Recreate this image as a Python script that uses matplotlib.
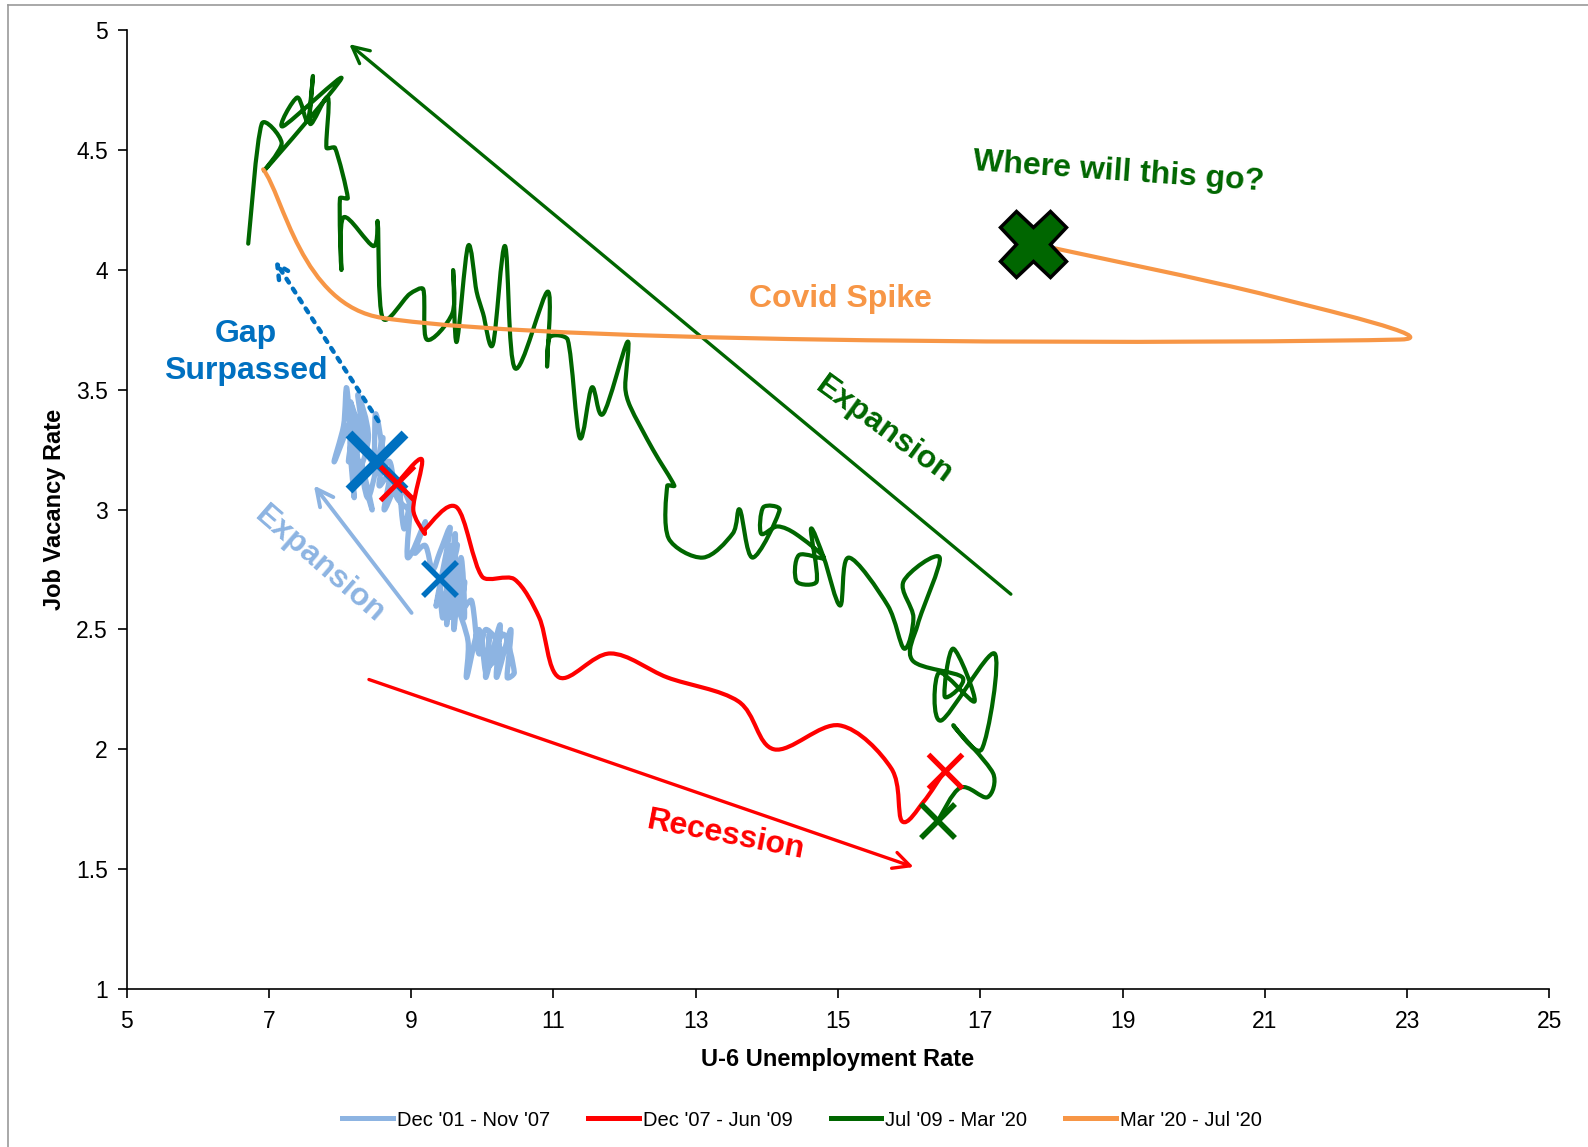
import numpy as np
import matplotlib
matplotlib.use("Agg")
import matplotlib.pyplot as plt
from matplotlib.path import Path
from matplotlib.patches import PathPatch
from matplotlib.lines import Line2D

# Dec '01 - Nov '07 (U-6 rate, job vacancy rate)
blue_x = [9.40,
          9.45, 9.55, 9.50, 9.62, 9.60, 9.70, 9.75, 9.65, 9.80, 9.78, 9.95, 10.05,
          10.10, 10.05, 10.25, 10.20, 10.40, 10.35, 10.45, 10.30, 10.10, 10.25, 10.05, 9.95,
          9.85, 9.70, 9.75, 9.55, 9.60, 9.45, 9.65, 9.50, 9.35, 9.55, 9.40, 9.30,
          9.20, 9.05, 9.20, 8.95, 9.00, 8.90, 8.85, 9.00, 8.80, 8.70, 8.55, 8.60,
          8.40, 8.30, 8.45, 8.15, 8.20, 8.10, 8.05, 7.92, 8.20, 8.12, 8.30, 8.20,
          8.40, 8.25, 8.35, 8.15, 8.45, 8.50, 8.60, 8.55, 8.70, 8.62, 8.75]
blue_y = [2.71,
          2.55, 2.85, 2.52, 2.90, 2.50, 2.80, 2.55, 2.60, 2.45, 2.30, 2.50, 2.32,
          2.48, 2.30, 2.52, 2.30, 2.50, 2.30, 2.32, 2.48, 2.35, 2.42, 2.50, 2.40,
          2.62, 2.58, 2.70, 2.55, 2.72, 2.60, 2.85, 2.78, 2.60, 2.92, 2.82, 2.75,
          2.85, 2.82, 2.95, 2.80, 3.05, 2.92, 3.10, 3.00, 3.05, 3.20, 3.15, 3.30,
          3.05, 3.20, 3.00, 3.30, 3.05, 3.50, 3.35, 3.20, 3.40, 3.20, 3.38, 3.12,
          3.30, 3.48, 3.25, 3.45, 3.20, 3.40, 3.22, 3.10, 3.15, 3.00, 3.08]

# Dec '07 - Jun '09
red_x = [8.80, 9.15, 9.03, 9.19, 9.20, 9.64, 10.00, 10.45, 10.80, 11.08, 11.80,
         12.60, 13.60, 14.10, 15.02, 15.75, 15.90, 16.20, 16.50]
red_y = [3.11, 3.21, 3.00, 2.90, 2.92, 3.01, 2.72, 2.71, 2.55, 2.30, 2.40,
         2.30, 2.20, 2.00, 2.10, 1.92, 1.70, 1.78, 1.91]

# Jul '09 - Mar '20
green_x = [16.40, 16.72, 17.10, 17.18, 16.62, 17.02, 17.20, 16.45, 16.42, 16.92,
           16.62, 16.50, 16.75, 16.05, 16.12, 16.43, 15.92, 16.06, 15.93, 15.70,
           15.15, 15.03, 14.80, 14.62, 14.70, 14.42, 14.45, 14.80, 14.40, 14.15,
           13.92, 13.95, 14.18, 13.80, 13.62, 13.52, 13.10, 12.62, 12.60, 12.70,
           12.40, 12.08, 12.01, 12.04, 11.70, 11.54, 11.37, 11.20, 10.95, 10.91,
           10.92, 10.46, 10.32, 10.15, 10.01, 9.92, 9.80, 9.64, 9.59, 9.58,
           9.22, 9.17, 8.98, 8.60, 8.53, 8.47, 8.05, 8.02, 8.00, 8.11,
           7.93, 7.81, 7.83, 7.58, 7.62, 7.55, 7.40, 7.20, 8.02, 6.95,
           7.18, 6.90, 6.71]
green_y = [1.70, 1.84, 1.80, 1.90, 2.10, 2.00, 2.40, 2.12, 2.32, 2.20,
           2.42, 2.22, 2.30, 2.37, 2.52, 2.80, 2.70, 2.55, 2.42, 2.60,
           2.80, 2.60, 2.80, 2.92, 2.70, 2.70, 2.81, 2.80, 2.90, 2.93,
           2.90, 3.01, 3.00, 2.80, 3.00, 2.90, 2.80, 2.88, 3.10, 3.10,
           3.25, 3.43, 3.51, 3.70, 3.40, 3.51, 3.30, 3.71, 3.72, 3.60,
           3.91, 3.59, 4.10, 3.69, 3.82, 3.91, 4.10, 3.70, 4.00, 3.82,
           3.71, 3.92, 3.90, 3.80, 4.20, 4.10, 4.22, 4.00, 4.30, 4.30,
           4.51, 4.51, 4.72, 4.61, 4.81, 4.62, 4.72, 4.60, 4.80, 4.42,
           4.53, 4.61, 4.11]

# Mar '20 - Jul '20
covid_x = [6.92, 8.60, 22.90, 21.10, 17.74]
covid_y = [4.42, 3.80, 3.71, 3.89, 4.11]

labels = ["Dec '01 - Nov '07", "Dec '07 - Jun '09", "Jul '09 - Mar '20", "Mar '20 - Jul '20"]

GREEN = "#006600"
RED = "#FF0000"
LBLUE = "#8DB4E2"
ORANGE = "#F79646"
BLUE = "#0070C0"

plt.rcParams["font.family"] = ["Liberation Sans", "DejaVu Sans"]


def smooth_path(xs, ys, scale=(20.0, 4.0)):
    # excel style smoothed line: bezier through every point,
    # tangents kept shorter than a third of the neighbouring segment
    p = np.column_stack([xs, ys]).astype(float)
    sc = np.array(scale)
    n = len(p)

    def ctrl(t, seg):
        tl = np.hypot(*(t / sc))
        sl = np.hypot(*(seg / sc)) / 3
        if tl > sl and tl > 0:
            t = t * sl / tl
        return t

    verts = [p[0]]
    codes = [Path.MOVETO]
    for i in range(n - 1):
        p0 = p[max(i - 1, 0)]
        p1 = p[i]
        p2 = p[i + 1]
        p3 = p[min(i + 2, n - 1)]
        t1 = ctrl((p2 - p0) / 6, p2 - p1)
        t2 = ctrl((p3 - p1) / 6, p2 - p1)
        verts += [p1 + t1, p2 - t2, p2]
        codes += [Path.CURVE4] * 3
    return Path(verts, codes)


fig = plt.figure(figsize=(15.88, 11.47), dpi=100)
ax = fig.add_axes([0.0797, 0.1378, 0.8960, 0.8357])

series = [(blue_x, blue_y, LBLUE, 3.8), (red_x, red_y, RED, 3.0),
          (green_x, green_y, GREEN, 3.0), (covid_x, covid_y, ORANGE, 3.0)]
for i, (xs, ys, c, lw) in enumerate(series):
    ax.add_patch(PathPatch(smooth_path(xs, ys), facecolor="none", edgecolor=c, lw=lw,
                           capstyle="round", joinstyle="round", zorder=2 + i))

# markers
ax.plot(blue_x[0], blue_y[0], marker="x", color=BLUE, ms=24, mew=4, zorder=7)
ax.plot(8.52, 3.20, marker="x", color=BLUE, ms=40, mew=7, zorder=7)
ax.plot(red_x[0], red_y[0], marker="x", color=RED, ms=25, mew=3.6, zorder=8)
ax.plot(red_x[-1], red_y[-1], marker="x", color=RED, ms=25, mew=3.8, zorder=8)
ax.plot(green_x[0], green_y[0], marker="x", color=GREEN, ms=25, mew=4, zorder=8)
ax.plot(covid_x[-1], covid_y[-1], marker="X", color=GREEN, ms=48, mec="black", mew=2.5, zorder=9)

# arrows
ax.annotate("", xy=(8.10, 4.95), xytext=(17.46, 2.64),
            arrowprops=dict(arrowstyle="->", color=GREEN, lw=2.4, mutation_scale=30))
ax.annotate("", xy=(16.10, 1.505), xytext=(8.37, 2.295),
            arrowprops=dict(arrowstyle="->", color=RED, lw=2.4, mutation_scale=30))
ax.annotate("", xy=(7.61, 3.11), xytext=(9.03, 2.56),
            arrowprops=dict(arrowstyle="->", color=LBLUE, lw=2.8, mutation_scale=30))
ax.annotate("", xy=(7.06, 4.05), xytext=(8.56, 3.36),
            arrowprops=dict(arrowstyle="->", color=BLUE, lw=3.2, ls=":", mutation_scale=25))

# text annotations
tkw = dict(fontsize=23, fontweight="bold", ha="center", va="center")
ax.text(15.65, 3.33, "Expansion", color=GREEN, rotation=-36, **tkw)
ax.text(7.72, 2.77, "Expansion", color=LBLUE, rotation=-41, **tkw)
ax.text(13.43, 1.64, "Recession", color=RED, rotation=-11, **tkw)
ax.text(15.03, 3.88, "Covid Spike", color=ORANGE, **tkw)
ax.text(6.68, 3.655, "Gap\nSurpassed", color=BLUE, linespacing=1.3, **tkw)
ax.text(18.95, 4.41, "Where will this go?", color=GREEN, rotation=-4, **tkw)

ax.set_xlim(5, 25)
ax.set_ylim(1, 5)
ax.set_xticks(np.arange(5, 26, 2))
ax.set_yticks(np.arange(1, 5.01, 0.5))
ax.set_yticklabels(["1", "1.5", "2", "2.5", "3", "3.5", "4", "4.5", "5"])
for s in ["top", "right"]:
    ax.spines[s].set_visible(False)
for s in ["left", "bottom"]:
    ax.spines[s].set_linewidth(1.2)
ax.tick_params(direction="out", length=6.5, width=1.2, labelsize=16.5)
ax.tick_params(axis="x", pad=8.5)
ax.tick_params(axis="y", pad=7)
ax.set_xlabel("U-6 Unemployment Rate", fontsize=17, fontweight="bold", labelpad=11)
ax.set_ylabel("Job Vacancy Rate", fontsize=17, fontweight="bold", labelpad=7)

handles = [Line2D([], [], color=c, lw=3.6) for c in [LBLUE, RED, GREEN, ORANGE]]
fig.legend(handles, labels, loc="center", bbox_to_anchor=(0.505, 0.0235), ncol=4,
           frameon=False, fontsize=14.5, handlelength=2.5, handletextpad=0.2,
           columnspacing=1.9)

# chart area border
fig.add_artist(Line2D([8.3 / 1588, 8.3 / 1588], [0, 1 - 5 / 1147], color="#999999", lw=1.2))
fig.add_artist(Line2D([8.3 / 1588, 1], [1 - 5 / 1147, 1 - 5 / 1147], color="#999999", lw=1.2))

fig.savefig("out.png", dpi=100)
